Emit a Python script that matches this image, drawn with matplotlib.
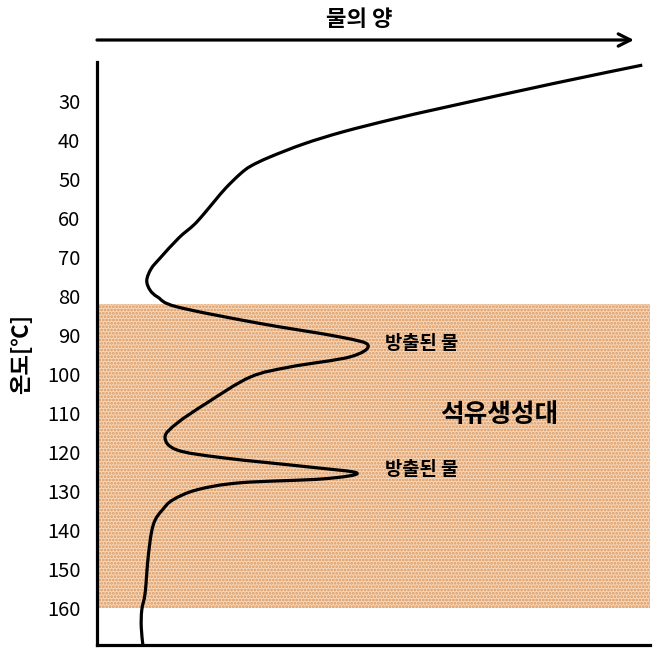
import matplotlib
matplotlib.use("Agg")
import matplotlib.pyplot as plt
from matplotlib.path import Path
from matplotlib.patches import PathPatch

plt.rcParams['font.family'] = ['Noto Sans CJK KR', 'DejaVu Sans']
plt.rcParams['hatch.linewidth'] = 1.3

# water amount (0-100, arbitrary) vs temperature
temp = [20.8, 25.5, 31.5, 34.6, 37.9, 41.0, 44.4, 46.7, 48.7, 52.3, 55.6, 59.0,
        61.8, 65.1, 70.3, 73.0, 76.0, 78.5, 80.3, 82.8, 86.9, 90.5, 92.6, 95.6,
        98.2, 100.8, 107.4, 112.6, 116.2, 119.5, 121.5, 123.8, 125.4, 126.9,
        127.9, 129.7, 132.3, 134.9, 137.5, 141.0, 147.7, 156.2, 160.5, 164.9, 169.5]
water = [98.6, 82.6, 63.3, 53.7, 44.5, 37.4, 31.2, 27.8, 25.9, 23.3, 21.3, 19.3,
         17.5, 14.8, 11.4, 9.8, 9.0, 9.6, 11.0, 14.5, 28.9, 43.9, 49.0, 45.8,
         34.9, 27.7, 19.9, 14.5, 12.3, 14.5, 22.8, 38.0, 47.0, 40.9,
         25.9, 18.1, 13.7, 11.8, 10.5, 9.8, 9.2, 8.7, 8.1, 8.0, 8.3]
yticks = list(range(30, 170, 10))
zone = (82, 160)   # 석유생성대


def smooth_path(xs, ys):
    # catmull-rom through the points, drawn as cubic bezier segments
    pts = list(zip(xs, ys))
    verts = [pts[0]]
    codes = [Path.MOVETO]
    for i in range(len(pts) - 1):
        p0 = pts[i - 1] if i > 0 else pts[i]
        p1 = pts[i]
        p2 = pts[i + 1]
        p3 = pts[i + 2] if i + 2 < len(pts) else pts[i + 1]
        c1 = (p1[0] + (p2[0] - p0[0]) / 6, p1[1] + (p2[1] - p0[1]) / 6)
        c2 = (p2[0] - (p3[0] - p1[0]) / 6, p2[1] - (p3[1] - p1[1]) / 6)
        verts += [c1, c2, p2]
        codes += [Path.CURVE4] * 3
    return Path(verts, codes)


fig = plt.figure(figsize=(6.61, 6.58), dpi=100)
ax = fig.add_axes([97/661, 13/658, 553/661, 583/658])

ax.axhspan(zone[0], zone[1], facecolor='#f6d6b8',
           edgecolor='#db975f', hatch='.....', lw=0, zorder=0)

ax.add_patch(PathPatch(smooth_path(water, temp), fill=False,
                       edgecolor='black', lw=2.3, zorder=3))

ax.set_xlim(0, 100)
ax.set_ylim(169.5, 20)
ax.set_yticks(yticks)
ax.set_yticklabels([str(t) for t in yticks], fontsize=14.5)
ax.tick_params(axis='y', length=0, pad=12)
ax.set_xticks([])
for s in ['top', 'right']:
    ax.spines[s].set_visible(False)
for s in ['left', 'bottom']:
    ax.spines[s].set_linewidth(2.3)

ax.set_ylabel('온도[℃]', fontsize=16, fontweight='bold', labelpad=10)

ax.text(52.0, 92.2, '방출된 물', fontsize=13.5, fontweight='bold', va='center')
ax.text(52.0, 124.6, '방출된 물', fontsize=13.5, fontweight='bold', va='center')
ax.text(62.0, 110.5, '석유생성대', fontsize=18.5, fontweight='bold', va='center')

fig.text(359/661, 1 - 20/658, '물의 양', fontsize=16, fontweight='bold',
         ha='center', va='center')
ax.annotate('', xy=(634/661, 1 - 40/658), xytext=(97/661, 1 - 40/658),
            xycoords='figure fraction', textcoords='figure fraction',
            arrowprops=dict(arrowstyle='->', lw=2.3, mutation_scale=22,
                            color='black', shrinkA=0, shrinkB=0))

fig.savefig('out.png', dpi=100)
